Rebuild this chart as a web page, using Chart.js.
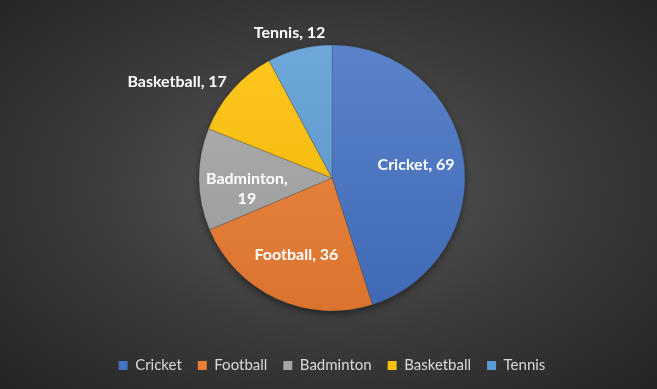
<!DOCTYPE html>
<html>
<head>
<meta charset="utf-8">
<title>Players by sport</title>
<script src="https://cdn.jsdelivr.net/npm/chart.js@4/dist/chart.umd.min.js"></script>
<style>
  html, body { margin: 0; padding: 0; background: #fff; }
  #wrap {
    position: absolute; left: 0; top: 0; width: 657px; height: 389px;
    background: radial-gradient(ellipse at 50% 48%, #5a5a5a 0%, #3c3c3c 50%, #242424 100%);
  }
</style>
</head>
<body>
<div id="wrap"><canvas id="sportsChart" width="657" height="389"></canvas></div>
<script>
const sports = ['Cricket', 'Football', 'Badminton', 'Basketball', 'Tennis']
const players = [69, 36, 19, 17, 12]

const sliceColors = ['#4472C4', '#ED7D31', '#A5A5A5', '#FFC000', '#5B9BD5']
const labelPlacement = ['inside', 'inside', 'inside', 'outside', 'outside']
const PIE_RADIUS = 133

// lighten (amt > 0) or darken (amt < 0) a hex colour
function shade(hex, amt) {
    const n = parseInt(hex.slice(1), 16)
    let r = (n >> 16) & 255, g = (n >> 8) & 255, b = n & 255
    const mix = (c) => amt > 0 ? Math.round(c + (255 - c) * amt) : Math.round(c * (1 + amt))
    return 'rgb(' + mix(r) + ',' + mix(g) + ',' + mix(b) + ')'
}

function sliceFill(ctx) {
    const base = sliceColors[ctx.dataIndex]
    const area = ctx.chart.chartArea
    if (!area) return base
    const cy = (area.top + area.bottom) / 2
    const g = ctx.chart.ctx.createLinearGradient(0, cy - PIE_RADIUS, 0, cy + PIE_RADIUS)
    g.addColorStop(0, shade(base, 0.12))
    g.addColorStop(1, shade(base, -0.08))
    return g
}

// soft shadow under the whole pie
const pieShadow = {
    id: 'pieShadow',
    beforeDatasetsDraw(chart) {
        const arc = chart.getDatasetMeta(0).data[0]
        if (!arc) return
        const c = chart.ctx
        c.save()
        c.shadowColor = 'rgba(0,0,0,0.55)'
        c.shadowBlur = 8
        c.shadowOffsetY = 3
        c.fillStyle = '#333'
        c.beginPath()
        c.arc(arc.x, arc.y, arc.outerRadius - 1, 0, Math.PI * 2)
        c.fill()
        c.restore()
    }
}

// "Name, value" labels on or beside each slice
const sliceLabels = {
    id: 'sliceLabels',
    afterDatasetsDraw(chart) {
        const c = chart.ctx
        const total = players.reduce((a, b) => a + b, 0)
        const lineH = 20
        c.save()
        c.font = 'bold 16px Lato'
        c.fillStyle = '#ffffff'
        chart.getDatasetMeta(0).data.forEach((arc, i) => {
            const mid = (arc.startAngle + arc.endAngle) / 2
            const cos = Math.cos(mid), sin = Math.sin(mid)
            let lines = [sports[i] + ', ' + players[i]]
            if (labelPlacement[i] === 'inside') {
                // narrow slices get the value on a second line
                if (players[i] / total < 0.15) lines = [sports[i] + ',', String(players[i])]
                const d = arc.outerRadius * 0.64
                const x = arc.x + cos * d, y = arc.y + sin * d
                c.textAlign = 'center'
                c.textBaseline = 'middle'
                lines.forEach((t, k) => c.fillText(t, x, y + k * lineH))
            } else {
                const d = arc.outerRadius + 8
                const x = arc.x + cos * d, y = arc.y + sin * d
                if (Math.abs(cos) < 0.4) {
                    c.textAlign = 'center'
                    c.textBaseline = sin < 0 ? 'bottom' : 'top'
                    c.fillText(lines[0], x - 8, y)
                } else {
                    c.textAlign = cos < 0 ? 'right' : 'left'
                    c.textBaseline = 'middle'
                    c.fillText(lines[0], x, y - 2)
                }
            }
        })
        c.restore()
    }
}

new Chart(document.getElementById('sportsChart'), {
    type: 'pie',
    data: {
        labels: sports,
        datasets: [{
            data: players,
            backgroundColor: sliceFill,
            borderColor: 'rgba(60,60,60,0.35)',
            borderWidth: 0.75,
            radius: PIE_RADIUS
        }]
    },
    options: {
        responsive: false,
        animation: false,
        layout: { padding: { top: 14, bottom: 6, left: 7, right: 0 } },
        plugins: {
            tooltip: { enabled: false },
            legend: {
                position: 'bottom',
                labels: {
                    color: '#d9d9d9',
                    font: { family: 'Lato', size: 15 },
                    boxWidth: 9,
                    boxHeight: 9,
                    padding: 16,
                    generateLabels: () => sports.map((s, i) => ({
                        text: s,
                        fillStyle: sliceColors[i],
                        strokeStyle: sliceColors[i],
                        lineWidth: 0,
                        fontColor: '#d9d9d9',
                        index: i
                    }))
                }
            }
        }
    },
    plugins: [pieShadow, sliceLabels]
})
</script>
</body>
</html>
